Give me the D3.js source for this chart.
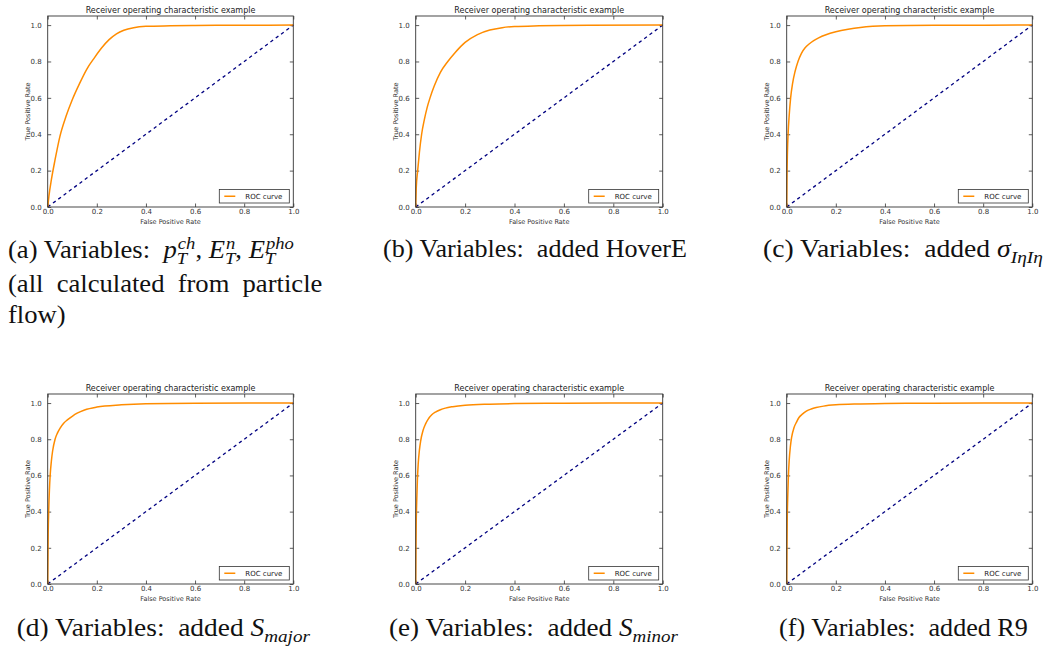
<!DOCTYPE html>
<html>
<head>
<meta charset="utf-8">
<script src="https://cdn.jsdelivr.net/npm/d3@7"></script>
<style>
  body { margin: 0; background: #fff; }
  svg { display: block; }
</style>
</head>
<body>
<script>
// ROC curve points (false positive rate, true positive rate)
const fprA = [0, 0.005, 0.015, 0.03, 0.05, 0.075, 0.1, 0.13, 0.16, 0.19, 0.22, 0.25, 0.28, 0.31, 0.35, 0.4, 0.5, 0.6, 0.8, 1.0];
const tprA = [0, 0.06, 0.15, 0.26, 0.39, 0.5, 0.59, 0.68, 0.76, 0.82, 0.875, 0.92, 0.952, 0.972, 0.986, 0.993, 0.996, 0.998, 0.999, 1.0];

const fprB = [0, 0.002, 0.008, 0.015, 0.024, 0.035, 0.046, 0.058, 0.075, 0.1, 0.13, 0.16, 0.2, 0.25, 0.3, 0.35, 0.4, 0.5, 0.7, 1.0];
const tprB = [0, 0.1, 0.2, 0.3, 0.4, 0.48, 0.545, 0.6, 0.665, 0.74, 0.8, 0.85, 0.905, 0.948, 0.973, 0.986, 0.992, 0.996, 0.999, 1.0];

const fprC = [0, 0.001, 0.003, 0.006, 0.01, 0.016, 0.024, 0.034, 0.046, 0.06, 0.075, 0.09, 0.11, 0.13, 0.16, 0.2, 0.25, 0.3, 0.35, 0.4, 0.6, 1.0];
const tprC = [0, 0.15, 0.3, 0.41, 0.5, 0.6, 0.68, 0.745, 0.8, 0.845, 0.875, 0.895, 0.915, 0.93, 0.947, 0.963, 0.977, 0.987, 0.993, 0.996, 0.999, 1.0];

const fprD = [0, 0.001, 0.002, 0.004, 0.007, 0.01, 0.015, 0.02, 0.03, 0.04, 0.05, 0.065, 0.08, 0.1, 0.12, 0.15, 0.2, 0.3, 0.4, 0.6, 1.0];
const tprD = [0, 0.15, 0.28, 0.4, 0.52, 0.6, 0.68, 0.735, 0.8, 0.835, 0.86, 0.888, 0.907, 0.927, 0.944, 0.962, 0.978, 0.99, 0.996, 0.999, 1.0];

const fprE = [0, 0.001, 0.002, 0.004, 0.007, 0.01, 0.015, 0.02, 0.03, 0.04, 0.05, 0.065, 0.08, 0.1, 0.12, 0.15, 0.2, 0.3, 0.4, 0.6, 1.0];
const tprE = [0, 0.2, 0.33, 0.45, 0.58, 0.66, 0.74, 0.79, 0.85, 0.885, 0.91, 0.935, 0.95, 0.963, 0.972, 0.98, 0.988, 0.994, 0.997, 0.999, 1.0];

const fprF = [0, 0.001, 0.002, 0.004, 0.007, 0.01, 0.015, 0.02, 0.03, 0.04, 0.05, 0.065, 0.08, 0.1, 0.12, 0.15, 0.2, 0.3, 0.4, 0.6, 1.0];
const tprF = [0, 0.2, 0.34, 0.47, 0.6, 0.68, 0.76, 0.81, 0.865, 0.895, 0.92, 0.94, 0.955, 0.967, 0.975, 0.983, 0.99, 0.995, 0.998, 0.999, 1.0];

// chance line and axis ticks
const chanceLine = [0, 1];
const ticks = [0, 0.2, 0.4, 0.6, 0.8, 1.0];

const plotTitle = "Receiver operating characteristic example";
const xLabel = "False Positive Rate";
const yLabel = "True Positive Rate";
const legendLabel = "ROC curve";

// sub-figure captions: each part is plain text, or an italic symbol with sub/superscript
const captionA1 = [{t: "(a) Variables:  "}, {t: "p", it: true, sub: "T", sup: "ch"}, {t: ", "},
                   {t: "E", it: true, sub: "T", sup: "n"}, {t: ", "}, {t: "E", it: true, sub: "T", sup: "pho"}];
const captionA2 = "(all calculated from particle";
const captionA3 = "flow)";
const captionB = [{t: "(b) Variables:  added HoverE"}];
const captionC = [{t: "(c) Variables:  added "}, {t: "σ", it: true, sub: "IηIη"}];
const captionD = [{t: "(d) Variables:  added "}, {t: "S", it: true, sub: "major"}];
const captionE = [{t: "(e) Variables:  added "}, {t: "S", it: true, sub: "minor"}];
const captionF = [{t: "(f) Variables:  added R9"}];

const width = 1050, height = 652;

const svg = d3.select("body").append("svg")
    .attr("width", width)
    .attr("height", height);

// panel frames: [left, right, top, bottom]
const panels = [
  {fpr: fprA, tpr: tprA, box: [47.7, 293.3, 16, 207]},
  {fpr: fprB, tpr: tprB, box: [415.7, 662.7, 16, 207]},
  {fpr: fprC, tpr: tprC, box: [786.7, 1032.3, 16, 207]},
  {fpr: fprD, tpr: tprD, box: [47.7, 293.3, 394, 584]},
  {fpr: fprE, tpr: tprE, box: [415.7, 662.7, 394, 584]},
  {fpr: fprF, tpr: tprF, box: [786.7, 1032.3, 394, 584]}
];

const sans = "DejaVu Sans, sans-serif";

panels.forEach(p => {
  const [l, r, t, b] = p.box;
  const x = d3.scaleLinear().domain([0, 1]).range([l, r]);
  const y = d3.scaleLinear().domain([0, 1.05]).range([b, t]);
  const g = svg.append("g");

  // ticks, pointing inward on all four sides
  const fmt = d3.format(".1f");
  g.append("g").attr("transform", `translate(0,${b})`)
    .call(d3.axisBottom(x).tickValues(ticks).tickFormat(fmt).tickSize(-3.5).tickPadding(2.5));
  g.append("g").attr("transform", `translate(0,${t})`)
    .call(d3.axisTop(x).tickValues(ticks).tickFormat("").tickSize(-3.5));
  g.append("g").attr("transform", `translate(${l},0)`)
    .call(d3.axisLeft(y).tickValues(ticks).tickFormat(fmt).tickSize(-3.5).tickPadding(6));
  g.append("g").attr("transform", `translate(${r},0)`)
    .call(d3.axisRight(y).tickValues(ticks).tickFormat("").tickSize(-3.5));
  g.selectAll(".domain").remove();
  g.selectAll(".tick line").attr("stroke", "#333").attr("stroke-width", 0.8);
  g.selectAll(".tick text").attr("fill", "#333").style("font-family", sans).style("font-size", "7px");

  // chance diagonal
  const line = d3.line().x(d => x(d[0])).y(d => y(d[1]));
  g.append("path")
    .attr("d", line(chanceLine.map(v => [v, v])))
    .attr("fill", "none")
    .attr("stroke", "navy")
    .attr("stroke-width", 1.3)
    .attr("stroke-dasharray", "3.3,3.3");

  // ROC curve
  const curve = d3.line().x(d => x(d[0])).y(d => y(d[1])).curve(d3.curveMonotoneX);
  g.append("path")
    .attr("d", curve(p.fpr.map((v, i) => [v, p.tpr[i]])))
    .attr("fill", "none")
    .attr("stroke", "darkorange")
    .attr("stroke-width", 1.5);

  // frame
  g.append("rect")
    .attr("x", l).attr("y", t)
    .attr("width", r - l).attr("height", b - t)
    .attr("fill", "none").attr("stroke", "#333").attr("stroke-width", 0.9);

  // title and axis labels
  g.append("text")
    .attr("x", (l + r) / 2).attr("y", t - 3.5)
    .attr("text-anchor", "middle")
    .style("font-family", sans).style("font-size", "8px").attr("fill", "#222")
    .text(plotTitle);
  g.append("text")
    .attr("x", (l + r) / 2).attr("y", b + 17)
    .attr("text-anchor", "middle")
    .style("font-family", sans).style("font-size", "6.5px").attr("fill", "#333")
    .text(xLabel);
  g.append("text")
    .attr("transform", `translate(${l - 18},${(t + b) / 2}) rotate(-90)`)
    .attr("text-anchor", "middle")
    .style("font-family", sans).style("font-size", "6.5px").attr("fill", "#333")
    .text(yLabel);

  // legend
  const lx = r - 74, ly = b - 17.5;
  g.append("rect")
    .attr("x", lx).attr("y", ly).attr("width", 70).attr("height", 13.5)
    .attr("fill", "#fff").attr("stroke", "#333").attr("stroke-width", 0.8);
  g.append("line")
    .attr("x1", lx + 5).attr("x2", lx + 16)
    .attr("y1", ly + 6.75).attr("y2", ly + 6.75)
    .attr("stroke", "darkorange").attr("stroke-width", 1.5);
  g.append("text")
    .attr("x", lx + 26).attr("y", ly + 9.3)
    .style("font-family", sans).style("font-size", "7px").attr("fill", "#222")
    .text(legendLabel);
});

// captions in a Times-like serif, fitted to the widths seen in the picture
const serif = "'Liberation Serif', 'Times New Roman', serif";
const capSize = 25;
const scriptSize = capSize * 0.7;

// width of a string in the caption font, from a throwaway text node
function measure(str, size, italic) {
  const t = svg.append("text")
    .attr("xml:space", "preserve")
    .style("font-family", serif).style("font-size", size + "px")
    .style("font-style", italic ? "italic" : "normal")
    .text(str);
  const w = t.node().getComputedTextLength();
  t.remove();
  return w;
}

function caption(parts, x0, x1, baseline) {
  const text = svg.append("text")
    .attr("xml:space", "preserve")
    .style("font-family", serif).style("font-size", capSize + "px")
    .attr("fill", "#111");
  const up = capSize * 0.38, down = capSize * 0.22;
  let shift = 0;   // vertical offset of the current tspan from the baseline
  let pad = 0;     // horizontal gap still owed after the previous scripts
  parts.forEach(s => {
    text.append("tspan")
      .attr("dx", pad).attr("dy", -shift)
      .style("font-style", s.it ? "italic" : "normal")
      .text(s.t);
    shift = 0; pad = 0;
    let supW = 0, subW = 0;
    if (s.sup) {
      supW = measure(s.sup, scriptSize, true);
      text.append("tspan").attr("dx", 1).attr("dy", -up)
        .style("font-size", scriptSize + "px").style("font-style", "italic").text(s.sup);
      shift = -up;
      supW += 1;
    }
    if (s.sub) {
      subW = measure(s.sub, scriptSize, true);
      text.append("tspan").attr("dx", -supW).attr("dy", down - shift)
        .style("font-size", scriptSize + "px").style("font-style", "italic").text(s.sub);
      shift = down;
    }
    pad = Math.max(0, supW - subW);
  });
  const w = text.node().getComputedTextLength();
  const sx = (x1 - x0) / w;
  text.attr("transform", `translate(${x0},${baseline}) scale(${sx},1)`);
  return sx;
}

const sxA = caption(captionA1, 8, 322, 258);
// second line is justified to the full column width
const a2 = svg.append("text")
  .style("font-family", serif).style("font-size", capSize + "px").attr("fill", "#111")
  .text(captionA2);
const a2w = a2.node().getComputedTextLength() * sxA;
a2.attr("transform", `translate(8,291.5) scale(${sxA},1)`)
  .style("word-spacing", ((322.5 - 8 - a2w) / 3 / sxA) + "px");
svg.append("text")
  .attr("transform", `translate(8,322.5) scale(${sxA},1)`)
  .style("font-family", serif).style("font-size", capSize + "px").attr("fill", "#111")
  .text(captionA3);

caption(captionB, 383, 687, 257);
caption(captionC, 763, 1043, 257);
caption(captionD, 16.7, 310, 636);
caption(captionE, 389, 678, 636);
caption(captionF, 779, 1028, 636);
</script>
</body>
</html>
